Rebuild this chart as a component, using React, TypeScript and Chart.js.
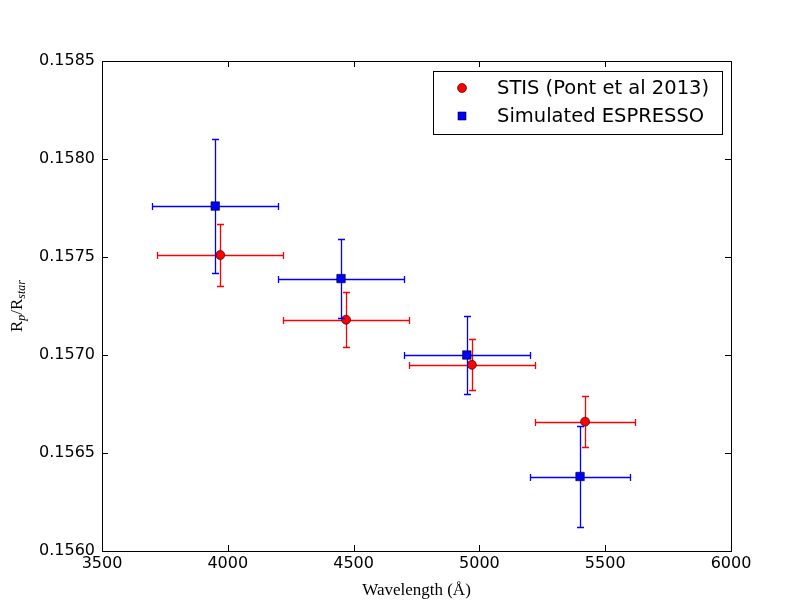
import { useEffect, useRef } from "react"
import { Chart, registerables } from "chart.js"

Chart.register(...registerables)

// STIS points (Pont et al 2013)
const stisWave = [3970, 4470, 4970, 5420]
const stisRatio = [0.15751, 0.15718, 0.15695, 0.15666]
const stisWaveErr = [250, 250, 250, 200]
const stisRatioErr = [0.00016, 0.00014, 0.00013, 0.00013]

// simulated ESPRESSO points
const espWave = [3950, 4450, 4950, 5400]
const espRatio = [0.15776, 0.15739, 0.157, 0.15638]
const espWaveErr = [250, 250, 250, 200]
const espRatioErr = [0.00034, 0.0002, 0.0002, 0.00026]

const xTicks = [3500, 4000, 4500, 5000, 5500, 6000]
const yTicks = [0.156, 0.1565, 0.157, 0.1575, 0.158, 0.1585]

const seriesLabels = ["STIS (Pont et al 2013)", "Simulated ESPRESSO"]
const seriesColors = ["#ff0000", "#0000ff"]
const xErrs = [stisWaveErr, espWaveErr]
const yErrs = [stisRatioErr, espRatioErr]

const snap = (v: number) => Math.round(v) + 0.5

const errorBars = {
    id: "errorBars",
    beforeDatasetDraw(chart: any, args: any) {
        const { ctx, scales } = chart
        const i = args.index
        const ds = chart.data.datasets[i]
        ctx.save()
        ctx.strokeStyle = seriesColors[i]
        ctx.lineWidth = 1.3
        ds.data.forEach((p: any, j: number) => {
            const x0 = snap(scales.x.getPixelForValue(p.x - xErrs[i][j]))
            const x1 = snap(scales.x.getPixelForValue(p.x + xErrs[i][j]))
            const y0 = snap(scales.y.getPixelForValue(p.y + yErrs[i][j]))
            const y1 = snap(scales.y.getPixelForValue(p.y - yErrs[i][j]))
            const px = snap(scales.x.getPixelForValue(p.x))
            const py = snap(scales.y.getPixelForValue(p.y))
            ctx.beginPath()
            ctx.moveTo(x0, py)
            ctx.lineTo(x1, py)
            ctx.moveTo(px, y0)
            ctx.lineTo(px, y1)
            // caps
            ctx.moveTo(x0, py - 3.5)
            ctx.lineTo(x0, py + 3.5)
            ctx.moveTo(x1, py - 3.5)
            ctx.lineTo(x1, py + 3.5)
            ctx.moveTo(px - 3.5, y0)
            ctx.lineTo(px + 3.5, y0)
            ctx.moveTo(px - 3.5, y1)
            ctx.lineTo(px + 3.5, y1)
            ctx.stroke()
        })
        ctx.restore()
    },
}

const frame = {
    id: "frame",
    afterDraw(chart: any) {
        const { ctx, chartArea: a, scales } = chart
        ctx.save()
        ctx.strokeStyle = "#000"
        ctx.lineWidth = 1
        ctx.strokeRect(snap(a.left), snap(a.top), Math.round(a.right - a.left), Math.round(a.bottom - a.top))
        ctx.beginPath()
        xTicks.forEach((v) => {
            const x = snap(scales.x.getPixelForValue(v))
            ctx.moveTo(x, a.bottom)
            ctx.lineTo(x, a.bottom - 6)
            ctx.moveTo(x, a.top)
            ctx.lineTo(x, a.top + 6)
        })
        yTicks.forEach((v) => {
            const y = snap(scales.y.getPixelForValue(v))
            ctx.moveTo(a.left, y)
            ctx.lineTo(a.left + 6, y)
            ctx.moveTo(a.right, y)
            ctx.lineTo(a.right - 6, y)
        })
        ctx.stroke()

        // legend
        const lx = 433, ly = 71, lw = 289, lh = 63
        ctx.fillStyle = "#fff"
        ctx.fillRect(lx, ly, lw, lh)
        ctx.strokeRect(lx + 0.5, ly + 0.5, lw, lh)
        ctx.font = "19.5px 'DejaVu Sans'"
        ctx.textBaseline = "middle"
        ctx.textAlign = "left"
        const rows = [88, 116]
        rows.forEach((ry, k) => {
            ctx.fillStyle = seriesColors[k]
            ctx.strokeStyle = "#000"
            ctx.lineWidth = 0.6
            ctx.beginPath()
            if (k === 0) ctx.arc(462, ry, 4.5, 0, Math.PI * 2)
            else ctx.rect(458, ry - 4, 8, 8)
            ctx.fill()
            ctx.stroke()
            ctx.fillStyle = "#000"
            ctx.fillText(seriesLabels[k], 497, ry + 1)
        })

        // axis titles
        ctx.font = "17px 'Liberation Serif'"
        ctx.textAlign = "center"
        ctx.textBaseline = "alphabetic"
        ctx.fillText("Wavelength (\u00c5)", (a.left + a.right) / 2, 595)

        ctx.translate(22, (a.top + a.bottom) / 2)
        ctx.rotate(-Math.PI / 2)
        const parts: [string, string][] = [
            ["R", "17px 'Liberation Serif'"],
            ["p", "italic 12px 'Liberation Serif'"],
            ["/R", "17px 'Liberation Serif'"],
            ["star", "italic 12px 'Liberation Serif'"],
        ]
        let total = 0
        parts.forEach(([t, f]) => {
            ctx.font = f
            total += ctx.measureText(t).width
        })
        let cx = -total / 2
        ctx.textAlign = "left"
        parts.forEach(([t, f], k) => {
            ctx.font = f
            ctx.fillText(t, cx, k % 2 === 1 ? 3 : 0)
            cx += ctx.measureText(t).width
        })
        ctx.restore()
    },
}

export default function App() {
    const chartRef = useRef<HTMLCanvasElement>(null)
    const chartInstance = useRef<Chart | null>(null)

    useEffect(() => {
        if (!chartRef.current) return
        document.body.style.margin = "0"
        if (chartInstance.current) chartInstance.current.destroy()

        const ctx = chartRef.current.getContext("2d")
        if (!ctx) return
        chartInstance.current = new Chart(ctx, {
            type: "scatter",
            data: {
                datasets: [
                    {
                        label: seriesLabels[0],
                        data: stisWave.map((x, i) => ({ x, y: stisRatio[i] })),
                        backgroundColor: seriesColors[0],
                        borderColor: "#000",
                        borderWidth: 0.6,
                        pointStyle: "circle",
                        pointRadius: 4.5,
                        order: 2,
                    },
                    {
                        label: seriesLabels[1],
                        data: espWave.map((x, i) => ({ x, y: espRatio[i] })),
                        backgroundColor: seriesColors[1],
                        borderColor: "#000",
                        borderWidth: 0.6,
                        pointStyle: "rect",
                        pointRadius: 6,
                        order: 1,
                    },
                ],
            },
            options: {
                responsive: false,
                animation: false,
                layout: { padding: { top: 61, right: 81, left: 0, bottom: 0 } },
                plugins: { legend: { display: false }, tooltip: { enabled: false } },
                scales: {
                    x: {
                        type: "linear",
                        min: 3500,
                        max: 6000,
                        afterBuildTicks: (s: any) => {
                            s.ticks = xTicks.map((value) => ({ value }))
                        },
                        afterFit: (s: any) => {
                            s.height = 61
                        },
                        grid: { display: false, drawTicks: false },
                        border: { display: false },
                        ticks: {
                            color: "#000",
                            font: { family: "DejaVu Sans", size: 16 },
                            padding: 3,
                            maxRotation: 0,
                            callback: (v: any) => String(v),
                        },
                    },
                    y: {
                        type: "linear",
                        min: 0.156,
                        max: 0.1585,
                        afterBuildTicks: (s: any) => {
                            s.ticks = yTicks.map((value) => ({ value }))
                        },
                        afterFit: (s: any) => {
                            s.width = 102
                        },
                        grid: { display: false, drawTicks: false },
                        border: { display: false },
                        ticks: {
                            color: "#000",
                            font: { family: "DejaVu Sans", size: 16 },
                            padding: 7,
                            callback: (v: any) => Number(v).toFixed(4),
                        },
                    },
                },
            },
            plugins: [errorBars, frame],
        })

        return () => {
            if (chartInstance.current) {
                chartInstance.current.destroy()
                chartInstance.current = null
            }
        }
    }, [])

    return <canvas ref={chartRef} width={812} height={612} />
}
